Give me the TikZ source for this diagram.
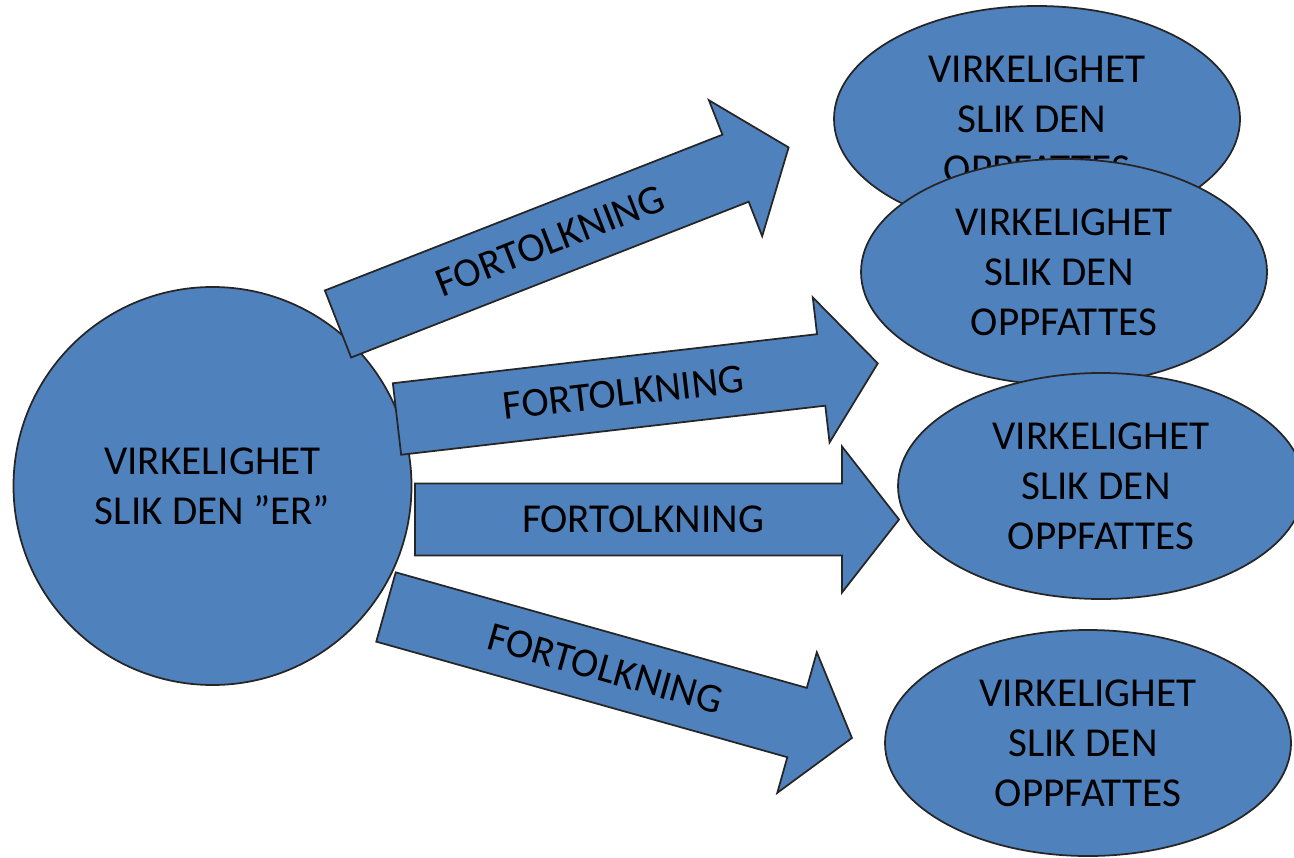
\documentclass[tikz,border=0pt]{standalone}
\usepackage{fontspec}
\setmainfont{Carlito}
\usepackage{tikz}
\usetikzlibrary{shapes.geometric}

\definecolor{shapeblue}{RGB}{79,129,189}
\tikzset{
	blob/.style={fill=shapeblue,draw=black!85,line width=0.5pt,align=center,inner sep=0pt,
		font=\fontsize{11.7}{14.2}\selectfont},
	view/.style={blob,ellipse,minimum width=4.06cm,minimum height=2.26cm},
	blockarrow/.style={fill=shapeblue,draw=black!85,line width=0.5pt,line join=miter},
	arrowtext/.style={transform shape,inner sep=0pt,font=\fontsize{11.7}{14.2}\selectfont}
}

\begin{document}
\begin{tikzpicture}
	\useasboundingbox (0,0) rectangle (12.94,8.57);

	%left circle
	\node[blob,circle,minimum size=3.98cm] (er) at (2.125,3.71) {VIRKELIGHET\\SLIK DEN ”ER”};

	%arrows, top to bottom
	\begin{scope}[shift={(3.38,5.33)},rotate=21.4]		%top arrow
		\draw[blockarrow] (0,-0.36) -- (4.27,-0.36) -- (4.27,-0.73) -- (4.84,0) -- (4.27,0.73) -- (4.27,0.36) -- (0,0.36) -- cycle;
		\node[arrowtext] (fo1) at (2.28,0) {FORTOLKNING};
	\end{scope}
	\begin{scope}[shift={(3.97,4.38)},rotate=6.6]		%upper mid arrow
		\draw[blockarrow] (0,-0.36) -- (4.27,-0.36) -- (4.27,-0.73) -- (4.84,0) -- (4.27,0.73) -- (4.27,0.36) -- (0,0.36) -- cycle;
		\node[arrowtext] (fo2) at (2.28,0) {FORTOLKNING};
	\end{scope}
	\begin{scope}[shift={(4.15,3.375)}]				%straight arrow
		\draw[blockarrow] (0,-0.36) -- (4.27,-0.36) -- (4.27,-0.73) -- (4.84,0) -- (4.27,0.73) -- (4.27,0.36) -- (0,0.36) -- cycle;
		\node[arrowtext] (fo3) at (2.28,0) {FORTOLKNING};
	\end{scope}
	\begin{scope}[shift={(3.86,2.50)},rotate=-15.7]		%bottom arrow
		\draw[blockarrow] (0,-0.36) -- (4.27,-0.36) -- (4.27,-0.73) -- (4.84,0) -- (4.27,0.73) -- (4.27,0.36) -- (0,0.36) -- cycle;
		\node[arrowtext] (fo4) at (2.28,0) {FORTOLKNING};
	\end{scope}

	%right ellipses, each one over the one above
	%NB: the kern is the trailing blank after "DEN" in the original
	\node[view] (opp1) at (10.37,7.38) {VIRKELIGHET\\SLIK DEN\kern0.1cm\\OPPFATTES};
	\node[view] (opp2) at (10.64,5.85) {VIRKELIGHET\\SLIK DEN\kern0.1cm\\OPPFATTES};
	\node[view] (opp3) at (11.01,3.71) {VIRKELIGHET\\SLIK DEN\kern0.1cm\\OPPFATTES};
	\node[view] (opp4) at (10.88,1.14) {VIRKELIGHET\\SLIK DEN\kern0.1cm\\OPPFATTES};
\end{tikzpicture}
\end{document}
